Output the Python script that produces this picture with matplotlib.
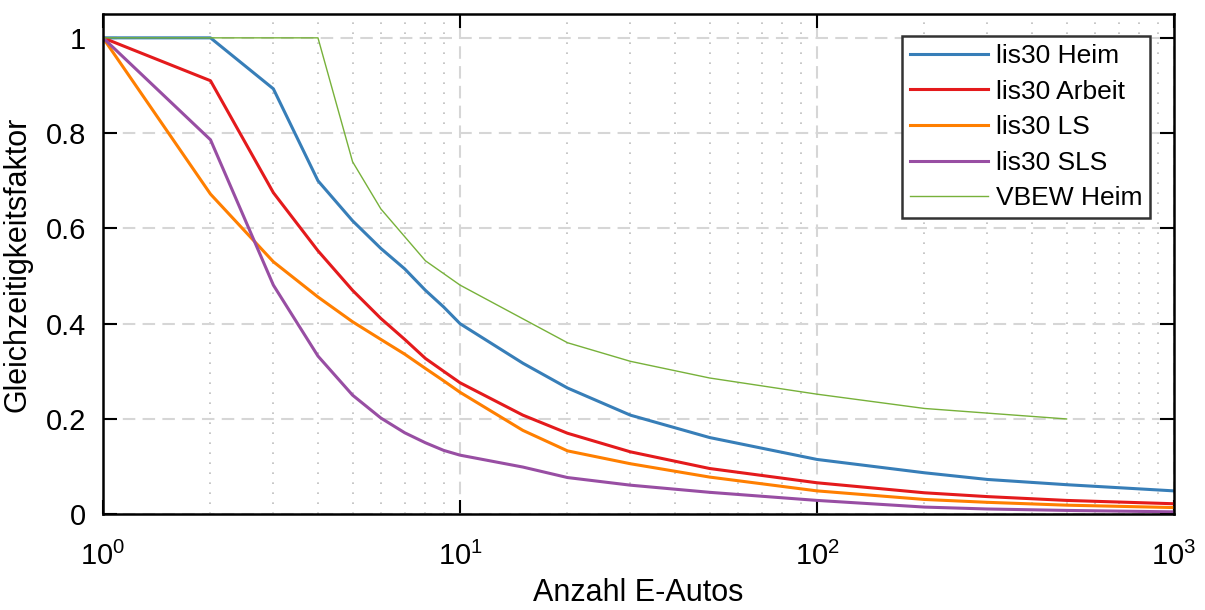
import numpy as np
import matplotlib.pyplot as plt
from matplotlib.ticker import FixedLocator, FuncFormatter, NullFormatter

plt.rcParams['font.family'] = ['Liberation Sans', 'DejaVu Sans']
plt.rcParams['mathtext.default'] = 'regular'

# Anzahl E-Autos
x_lis = [1, 2, 3, 4, 5, 6, 7, 8, 9, 10, 15, 20, 30, 50, 100, 200, 300, 500, 1000]
heim = [1.0, 1.0, 0.893, 0.70, 0.616, 0.558, 0.515, 0.47, 0.435, 0.40, 0.317, 0.265,
        0.208, 0.161, 0.115, 0.087, 0.073, 0.062, 0.049]
arbeit = [1.0, 0.91, 0.675, 0.553, 0.47, 0.411, 0.367, 0.327, 0.30, 0.276, 0.208, 0.17,
          0.131, 0.096, 0.066, 0.045, 0.037, 0.029, 0.022]
ls = [1.0, 0.672, 0.53, 0.456, 0.404, 0.367, 0.336, 0.306, 0.28, 0.256, 0.176, 0.133,
      0.106, 0.078, 0.049, 0.031, 0.025, 0.019, 0.014]
sls = [1.0, 0.786, 0.481, 0.332, 0.25, 0.202, 0.171, 0.15, 0.134, 0.124, 0.099, 0.077,
       0.061, 0.046, 0.029, 0.015, 0.011, 0.008, 0.005]

x_vbew = [1, 2, 3, 4, 5, 6, 8, 10, 20, 30, 50, 100, 200, 500]
vbew = [1.0, 1.0, 1.0, 1.0, 0.74, 0.641, 0.532, 0.481, 0.36, 0.321, 0.286, 0.252, 0.222, 0.2]

fig = plt.figure(figsize=(12.05, 6.1), dpi=100)
ax = fig.add_axes([0.0855, 0.157, 0.8888, 0.820])

ax.plot(x_lis, heim, color='#377eb8', lw=2.2, label='lis30 Heim')
ax.plot(x_lis, arbeit, color='#e41a1c', lw=2.2, label='lis30 Arbeit')
ax.plot(x_lis, ls, color='#ff7f00', lw=2.2, label='lis30 LS')
ax.plot(x_lis, sls, color='#984ea3', lw=2.2, label='lis30 SLS')
ax.plot(x_vbew, vbew, color='#77b13a', lw=1.0, label='VBEW Heim')

ax.set_xscale('log')
ax.set_xlim(1, 1000)
ax.set_ylim(0, 1.05)
ax.set_yticks([0, 0.2, 0.4, 0.6, 0.8, 1.0])
ax.yaxis.set_major_formatter(FuncFormatter(lambda v, p: f'{v:g}'))
ax.xaxis.set_major_locator(FixedLocator([1, 10, 100, 1000]))
ax.xaxis.set_major_formatter(FuncFormatter(lambda v, p: '$10^{%d}$' % round(np.log10(v))))
minors = [m * 10 ** d for d in range(3) for m in range(2, 10)]
ax.xaxis.set_minor_locator(FixedLocator(minors))
ax.xaxis.set_minor_formatter(NullFormatter())

ax.grid(True, which='major', color='#d6d6d6', linestyle=(0, (6, 3.5)), lw=1.5)
ax.grid(True, which='minor', axis='x', color='#bdbdbd', linestyle=(0, (1, 5)), lw=1.2)
ax.set_axisbelow(True)

ax.tick_params(which='major', direction='in', length=10, width=1.5, top=True, right=True,
               labelsize=21)
ax.tick_params(axis='y', pad=12)
ax.tick_params(axis='x', pad=20)
ax.tick_params(which='minor', length=0)
for s in ax.spines.values():
    s.set_linewidth(1.8)

ax.set_xlabel('Anzahl E-Autos', fontsize=22, labelpad=5)
ax.set_ylabel('Gleichzeitigkeitsfaktor', fontsize=22, labelpad=10)

leg = ax.legend(loc='upper right', bbox_to_anchor=(0.978, 0.956), fontsize=19,
                handlelength=2.95, labelspacing=0.44, borderpad=0.3,
                handletextpad=0.3, borderaxespad=0, fancybox=False, framealpha=1)
leg.get_frame().set_edgecolor('#333333')
leg.get_frame().set_linewidth(1.8)

plt.savefig('out.png', dpi=100)
